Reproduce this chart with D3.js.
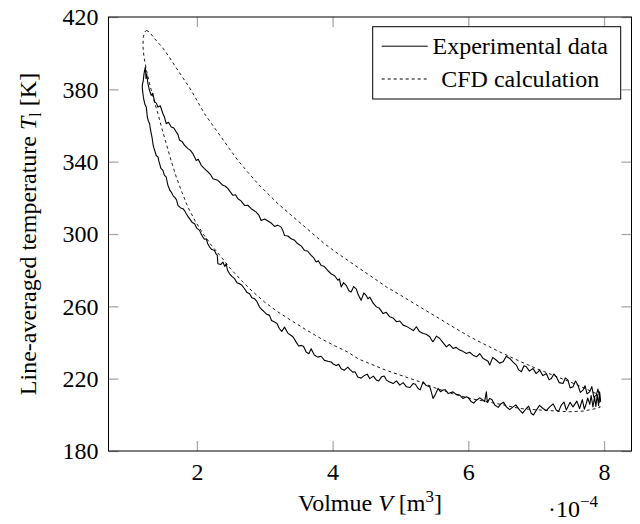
<!DOCTYPE html>
<html>
<head>
<meta charset="utf-8">
<script src="https://cdn.jsdelivr.net/npm/d3@7"></script>
<style>
  body { margin: 0; background: #fff; }
</style>
</head>
<body>
<script>
// Volume in units of 1e-4 m^3, temperature in K
var xTicks = [2, 4, 6, 8];
var yTicks = [180, 220, 260, 300, 340, 380, 420];
var seriesNames = ["Experimental data", "CFD calculation"];

// experimental loop, upper branch (peak -> right end)
var expUpper = [[1.24,392.3],[1.25,386],[1.26,388.5],[1.278,383.1],[1.30,379.5],[1.327,376.7],[1.35,377.8],[1.377,373],[1.40,372.5],[1.426,370.2],[1.46,370.9],[1.5,366.5],[1.52,364.8],[1.548,361],[1.58,361.8],[1.622,359.2],[1.66,358.6],[1.696,356.4],[1.72,355.1],[1.745,351.8],[1.78,351.2],[1.818,349],[1.868,347.2],[1.90,346.4],[1.941,344.4],[1.99,340.7],[2.02,341.3],[2.064,338],[2.11,336.2],[2.162,334.3],[2.2,332.9],[2.236,330.6],[2.309,329.7],[2.383,326.9],[2.42,326.4],[2.457,325.1],[2.53,321.4],[2.57,321.7],[2.604,319.5],[2.65,318.3],[2.702,315.8],[2.75,315.9],[2.8,314],[2.874,312.1],[2.91,310.6],[2.947,307.5],[3.0,308.3],[3.046,307.2],[3.1,305.9],[3.144,304.2],[3.19,304.9],[3.242,303.8],[3.27,301.6],[3.291,299.2],[3.34,298.9],[3.389,297.4],[3.44,296.5],[3.487,294.6],[3.54,293.3],[3.586,290.9],[3.63,290.6],[3.684,288.2],[3.72,286.9],[3.758,284.5],[3.79,285.2],[3.831,282.6],[3.87,282.2],[3.905,280.8],[3.94,279.4],[3.978,278],[4.03,276.9],[4.077,274.4],[4.1,275.2],[4.126,270.7],[4.16,273.1],[4.2,271.6],[4.24,268.6],[4.273,267.9],[4.31,270.9],[4.347,269.7],[4.38,266.2],[4.42,263.3],[4.46,267.4],[4.494,266.1],[4.52,264.2],[4.548,265.1],[4.6,261.6],[4.646,259.7],[4.69,258.9],[4.744,256],[4.79,256.7],[4.843,254.2],[4.89,253.6],[4.941,251.5],[4.99,251.9],[5.039,249.6],[5.09,248.9],[5.137,247.8],[5.19,246.6],[5.235,248.7],[5.28,246.1],[5.334,245],[5.38,244.6],[5.432,243.2],[5.46,241.3],[5.48,240.4],[5.53,243.5],[5.579,242.2],[5.63,239.8],[5.677,237.6],[5.72,238.9],[5.775,236.7],[5.82,237.3],[5.873,235.8],[5.92,235.1],[5.972,233.9],[6.02,234.6],[6.07,233],[6.12,232.1],[6.168,233.9],[6.22,231.1],[6.266,230.2],[6.29,229.6],[6.315,227.5],[6.36,231.8],[6.414,230.2],[6.46,228.6],[6.512,229.3],[6.56,232.4],[6.61,231.2],[6.66,229.1],[6.708,227.5],[6.74,224.9],[6.782,223.8],[6.82,227.1],[6.855,226.6],[6.9,224.2],[6.954,225.6],[7.0,222.8],[7.052,224.7],[7.1,221.7],[7.15,222.9],[7.19,219.4],[7.224,220.1],[7.26,222.6],[7.297,221],[7.34,217.8],[7.395,217.3],[7.43,220.4],[7.469,219.2],[7.5,214.9],[7.543,215.5],[7.58,218.7],[7.616,216.4],[7.65,212.4],[7.69,213.7],[7.72,216.1],[7.75,211.6],[7.788,212.7],[7.82,215.6],[7.85,209.8],[7.886,210.9],[7.91,214.2],[7.935,210]];

// experimental loop, lower branch (right end -> peak)
var expLower = [[7.95,207.5],[7.935,212.8],[7.92,205.1],[7.9,211.2],[7.88,204.6],[7.86,209.9],[7.837,204.4],[7.81,210.7],[7.79,205.8],[7.76,209.3],[7.739,206.3],[7.71,203.1],[7.68,208.4],[7.64,203.5],[7.6,207.6],[7.543,204.4],[7.5,206.9],[7.444,202.6],[7.41,207.1],[7.371,205.4],[7.33,201.9],[7.297,202.6],[7.25,206.1],[7.199,204.4],[7.15,202.3],[7.101,203.5],[7.05,205.2],[7.003,202.6],[6.96,199.9],[6.929,200.7],[6.89,204.8],[6.855,203.5],[6.8,200.9],[6.757,202.6],[6.7,205.5],[6.659,204.4],[6.61,202.9],[6.561,204.4],[6.52,206.9],[6.487,206.3],[6.44,204.1],[6.389,205.4],[6.35,208.3],[6.315,209.1],[6.28,206.8],[6.266,212.7],[6.24,207.3],[6.217,208.1],[6.17,209.4],[6.119,208.1],[6.08,206.5],[6.045,207.2],[6.0,209.5],[5.972,210],[5.92,209.1],[5.873,210.9],[5.82,211.3],[5.775,212.7],[5.702,211.8],[5.66,213.9],[5.628,213.7],[5.59,212.8],[5.554,214.6],[5.51,210.9],[5.48,209.1],[5.45,213.3],[5.432,215.5],[5.38,216.2],[5.334,218.3],[5.29,213.8],[5.26,214.6],[5.22,216.9],[5.186,217.3],[5.14,215.1],[5.088,215.5],[5.04,217.8],[4.99,216.4],[4.94,218.8],[4.892,217.3],[4.84,218.2],[4.793,219.2],[4.76,221.5],[4.72,221],[4.68,218.7],[4.646,219.2],[4.6,221.4],[4.548,220],[4.51,222.5],[4.469,221.8],[4.42,220.3],[4.371,220.9],[4.33,223.8],[4.298,223.6],[4.26,224.9],[4.224,226.4],[4.17,224.6],[4.126,225.5],[4.09,227.9],[4.052,227.3],[4.01,228.1],[3.978,229.2],[3.93,229.6],[3.88,230.1],[3.83,232.4],[3.782,231.9],[3.73,233.1],[3.684,236.6],[3.65,233.8],[3.61,234.7],[3.57,237.9],[3.537,238.4],[3.5,238.1],[3.463,240.2],[3.42,242.9],[3.389,243.9],[3.34,245.2],[3.291,248.5],[3.25,246.1],[3.217,247.6],[3.18,250.5],[3.144,251.3],[3.1,252.2],[3.07,255],[3.03,255.6],[2.997,256.8],[2.96,258.1],[2.923,259.6],[2.88,262.9],[2.849,264.2],[2.81,264.8],[2.776,267],[2.74,267.6],[2.702,269.7],[2.66,271.8],[2.628,272.5],[2.59,273.1],[2.555,275.3],[2.52,276.4],[2.481,278],[2.45,280.1],[2.432,283.6],[2.41,282.1],[2.383,284.5],[2.35,283.1],[2.309,283.6],[2.3,288.3],[2.28,289.2],[2.26,290.9],[2.22,291.4],[2.187,292.8],[2.16,294.6],[2.137,297.4],[2.11,297.1],[2.088,298.3],[2.06,300.2],[2.039,302],[2.0,303.1],[1.966,305.7],[1.93,306.4],[1.892,308.5],[1.87,309.6],[1.843,311.2],[1.82,312.8],[1.794,314],[1.76,314.4],[1.72,315.8],[1.7,318.9],[1.671,320.4],[1.65,321.1],[1.622,323.2],[1.6,324.3],[1.573,326.9],[1.56,329.1],[1.548,331.5],[1.52,332.6],[1.499,335.2],[1.47,336.3],[1.45,338.9],[1.44,340.2],[1.426,342.6],[1.4,343.4],[1.377,346.3],[1.365,347.6],[1.352,349.9],[1.34,353.1],[1.327,355.5],[1.315,357.8],[1.303,361],[1.285,362.4],[1.269,364.7],[1.26,368.1],[1.254,370.2],[1.235,371.6],[1.22,373.9],[1.21,376.1],[1.205,377.6],[1.195,380.6],[1.195,382.2],[1.21,385],[1.22,388.4],[1.229,390.5],[1.24,392.3]];

// CFD loop, upper branch (peak -> right end)
var cfdUpper = [[1.254,412.6],[1.3,411.7],[1.377,408],[1.45,404.9],[1.524,401.6],[1.62,396.2],[1.72,390.5],[1.82,384.9],[1.917,379.4],[2.013,373],[2.113,366.5],[2.235,360],[2.358,353.6],[2.48,347.1],[2.604,340.7],[2.75,334.2],[2.898,327.8],[3.045,322.3],[3.193,316.8],[3.365,311.2],[3.537,305.7],[3.71,300.1],[3.88,294.6],[4.05,289.9],[4.224,285.4],[4.386,281.2],[4.548,277.1],[4.79,270.8],[5.039,265.3],[5.285,259.7],[5.53,254.2],[5.775,248.6],[6.02,243.2],[6.27,238.4],[6.512,233.9],[6.76,229.6],[7.003,225.6],[7.25,221.9],[7.494,218.3],[7.72,214.6],[7.935,210.9]];

// CFD loop, lower branch (right end -> peak)
var cfdLower = [[7.94,204.2],[7.886,203.5],[7.7,202.1],[7.49,201.7],[7.25,202.2],[7.0,202.8],[6.757,203.5],[6.5,205.6],[6.26,207.4],[6.02,209.1],[5.77,211.7],[5.53,214.6],[5.284,218.3],[5.04,221.4],[4.79,224.6],[4.548,228.3],[4.38,230.9],[4.224,234.7],[4.03,238.2],[3.831,242.1],[3.61,247.0],[3.389,252.2],[3.19,257],[2.997,262.4],[2.82,268.2],[2.653,274.4],[2.5,280.6],[2.358,287.3],[2.22,293.5],[2.088,300.2],[1.97,307.5],[1.867,314.9],[1.78,323],[1.696,331.5],[1.62,340.5],[1.548,350],[1.485,358.2],[1.426,366.5],[1.36,374.8],[1.303,383.1],[1.255,390.8],[1.22,397.9],[1.205,403.5],[1.21,409],[1.23,411.6],[1.254,412.6]];

var FONT = "Liberation Serif";

var margin = { top: 17, right: 8.5, bottom: 73, left: 108.5 };
var width = 640 - margin.left - margin.right;
var height = 524 - margin.top - margin.bottom;

var x = d3.scaleLinear().domain([0.697, 8.405]).range([0, width]);
var y = d3.scaleLinear().domain([180, 420]).range([height, 0]);

var svg = d3.select("body").append("svg")
  .attr("width", 640)
  .attr("height", 524);

var g = svg.append("g")
  .attr("transform", "translate(" + margin.left + "," + margin.top + ")");

svg.append("defs").append("clipPath")
  .attr("id", "clip")
  .append("rect")
  .attr("width", width)
  .attr("height", height);

// axes: ticks point inward, mirrored on top/right without labels
var tickLen = 10;
function styleAxis(sel) {
  sel.attr("font-family", FONT).attr("font-size", 24);
  sel.select(".domain").remove();
  sel.selectAll(".tick line").attr("stroke", "#a8a8a8").attr("stroke-width", 1.3);
  sel.selectAll(".tick text")
    .attr("font-family", FONT)
    .attr("font-size", 24)
    .attr("fill", "#000");
}

g.append("g")
  .attr("transform", "translate(0," + height + ")")
  .call(d3.axisBottom(x).tickValues(xTicks).tickSizeInner(-tickLen).tickSizeOuter(0).tickPadding(12))
  .call(styleAxis);
g.append("g")
  .call(d3.axisTop(x).tickValues(xTicks).tickSizeInner(-tickLen).tickSizeOuter(0).tickFormat(""))
  .call(styleAxis);
g.append("g")
  .call(d3.axisLeft(y).tickValues(yTicks).tickSizeInner(-tickLen).tickSizeOuter(0).tickPadding(10))
  .call(styleAxis);
g.append("g")
  .attr("transform", "translate(" + width + ",0)")
  .call(d3.axisRight(y).tickValues(yTicks).tickSizeInner(-tickLen).tickSizeOuter(0).tickFormat(""))
  .call(styleAxis);

// data lines
var line = d3.line().x(function(d) { return x(d[0]); }).y(function(d) { return y(d[1]); });
var plot = g.append("g").attr("clip-path", "url(#clip)");

plot.append("path")
  .datum(cfdUpper.concat(cfdLower))
  .attr("fill", "none")
  .attr("stroke", "#000")
  .attr("stroke-width", 0.9)
  .attr("stroke-dasharray", "3,3")
  .attr("d", line);

plot.append("path")
  .datum(expUpper.concat(expLower))
  .attr("fill", "none")
  .attr("stroke", "#000")
  .attr("stroke-width", 1.1)
  .attr("stroke-linejoin", "round")
  .attr("d", line);

// frame
g.append("rect")
  .attr("width", width)
  .attr("height", height)
  .attr("fill", "none")
  .attr("stroke", "#000")
  .attr("stroke-width", 1);

// legend
var legend = g.append("g").attr("transform", "translate(" + (372.7 - margin.left) + "," + (26.7 - margin.top) + ")");
legend.append("rect")
  .attr("width", 248)
  .attr("height", 72.3)
  .attr("fill", "#fff")
  .attr("stroke", "#000")
  .attr("stroke-width", 1);
var rowY = [19.5, 52.3];
seriesNames.forEach(function(name, i) {
  legend.append("line")
    .attr("x1", 9).attr("x2", 55)
    .attr("y1", rowY[i]).attr("y2", rowY[i])
    .attr("stroke", "#000")
    .attr("stroke-width", 1)
    .attr("stroke-dasharray", i === 1 ? "3,3" : null);
  legend.append("text")
    .attr("x", 147.5)
    .attr("y", rowY[i])
    .attr("dy", "0.33em")
    .attr("text-anchor", "middle")
    .attr("font-family", FONT)
    .attr("font-size", 24)
    .text(name);
});

// axis labels
var xl = svg.append("text")
  .attr("x", margin.left + width / 2)
  .attr("y", 511)
  .attr("text-anchor", "middle")
  .attr("font-family", FONT)
  .attr("font-size", 24);
xl.append("tspan").text("Volmue ");
xl.append("tspan").attr("font-style", "italic").text("V");
xl.append("tspan").text(" [m");
xl.append("tspan").attr("dy", -9).attr("font-size", 17).text("3");
xl.append("tspan").attr("dy", 9).text("]");

var sc = svg.append("text")
  .attr("x", 548)
  .attr("y", 517)
  .attr("font-family", FONT)
  .attr("font-size", 24);
sc.append("tspan").text("\u00b710");
sc.append("tspan").attr("dy", -10).attr("font-size", 17).text("\u22124");

var yl = svg.append("text")
  .attr("transform", "translate(36," + (margin.top + height / 2) + ") rotate(-90)")
  .attr("text-anchor", "middle")
  .attr("font-family", FONT)
  .attr("font-size", 24);
yl.append("tspan").text("Line-averaged temperature ");
yl.append("tspan").attr("font-style", "italic").text("T");
yl.append("tspan").attr("dy", 5).attr("font-size", 16).text("l");
yl.append("tspan").attr("dy", -5).text(" [K]");
</script>
</body>
</html>
